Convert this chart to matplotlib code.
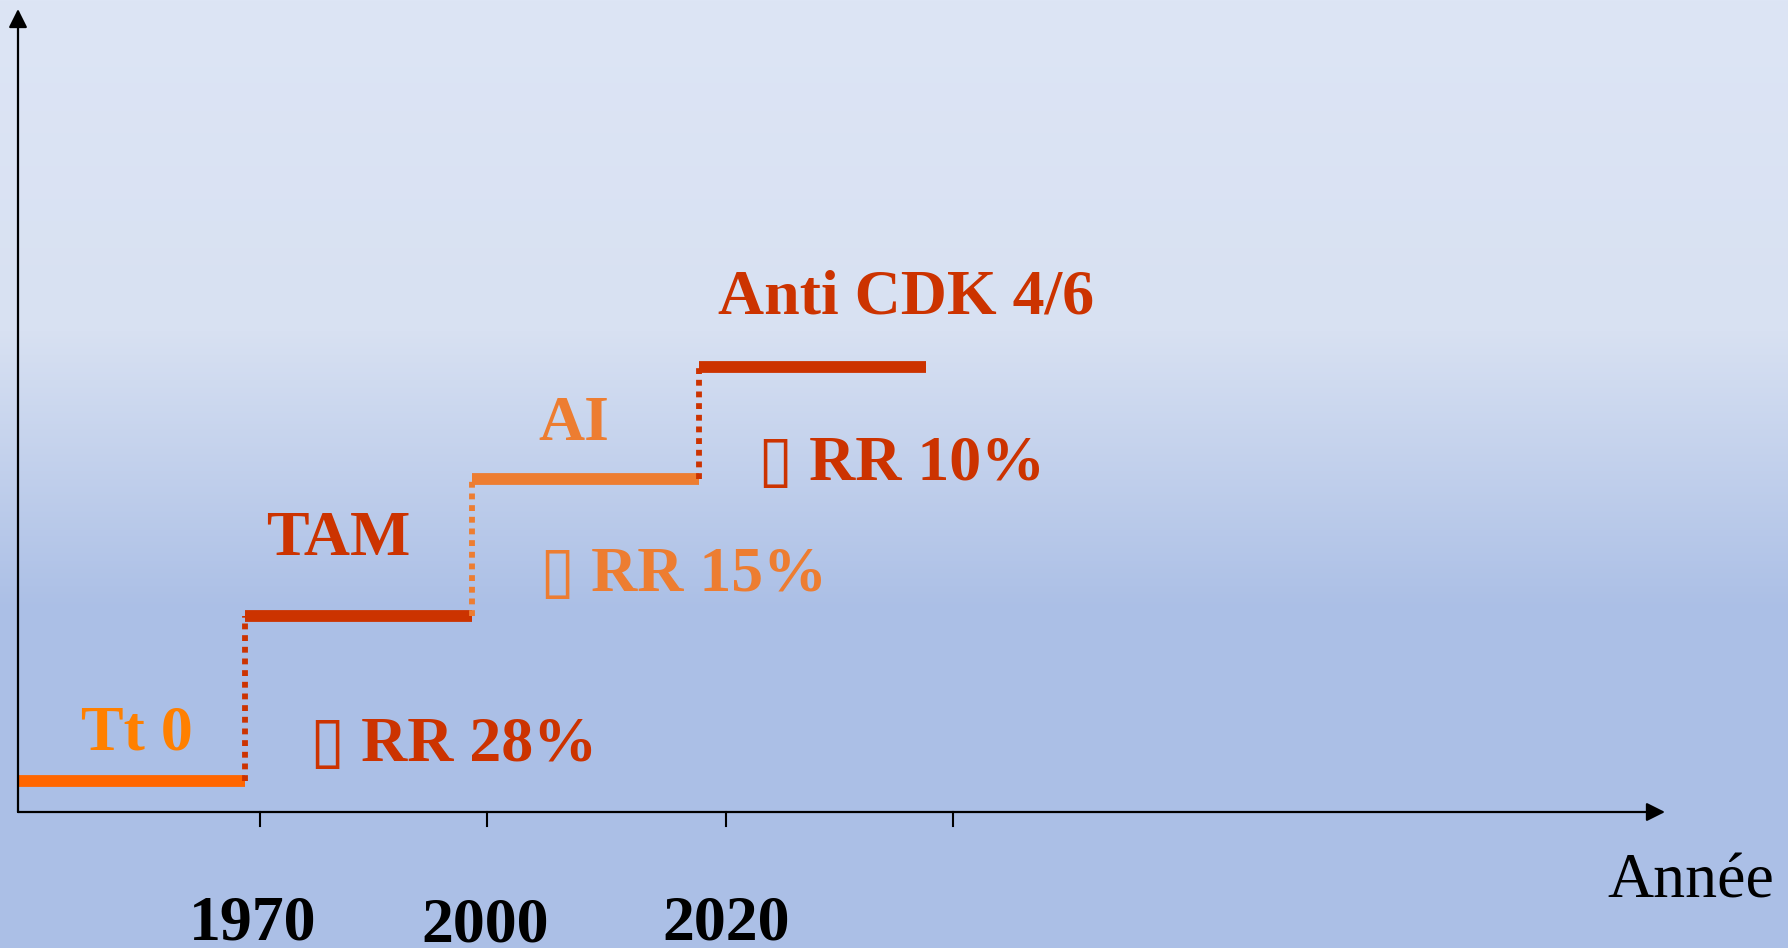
import numpy as np
import matplotlib.pyplot as plt

# periods (step index on the x axis) and their level
treatments = ['Tt 0', 'TAM', 'AI', 'Anti CDK 4/6']
levels = [0.31, 1.96, 3.33, 4.45]
step_starts = [0, 1, 2, 3]
line_colors = ['#FF6600', '#CC3300', '#ED7D31', '#CC3300']
label_colors = ['#FF8000', '#CC3300', '#ED7D31', '#CC3300']

# relative risk reduction written under each new step
rr_labels = ['\u25AF RR 28%', '\u25AF RR 15%', '\u25AF RR 10%']
rr_colors = ['#CC3300', '#ED7D31', '#CC3300']

tick_pos = [1.066, 2.066, 3.12, 4.12]
year_labels = ['1970', '2000', '2020']
year_pos = [1.035, 2.06, 3.12]

W, H = 1788, 948
fig = plt.figure(figsize=(W / 100, H / 100), dpi=100)
ax = fig.add_axes([0, 0, 1, 1])
# 1 x unit = 227 px starting at px 18, 1 y unit = 100 px, axis at px 812 from top
x0, y0 = -18 / 227, -(H - 812) / 100
x1, y1 = (W - 18) / 227, 812 / 100
ax.set_xlim(x0, x1)
ax.set_ylim(y0, y1)
ax.axis('off')

# background gradient (light at top, flat blue at bottom)
top = np.array([221, 229, 245])
mid = np.array([216, 225, 242])
bot = np.array([171, 191, 230])
col = np.zeros((H, 3))
for i in range(H):
    if i < 330:
        col[i] = top + (mid - top) * i / 330
    elif i < 610:
        col[i] = mid + (bot - mid) * (i - 330) / 280
    else:
        col[i] = bot
grad = np.repeat(col[:, None, :], 4, axis=1) / 255
ax.imshow(grad, extent=[x0, x1, y0, y1], aspect='auto', zorder=0)

# axes with arrows
arrow = dict(arrowstyle='-|>', color='black', lw=1.6, mutation_scale=28, shrinkA=0, shrinkB=0)
ax.annotate('', xy=(0, (812 - 9) / 100), xytext=(0, 0), arrowprops=arrow, zorder=3)
ax.annotate('', xy=((1665 - 18) / 227, 0), xytext=(0, 0), arrowprops=arrow, zorder=3)
for t in tick_pos:
    ax.plot([t, t], [0, -0.14], color='black', lw=1.5, zorder=3)

font = ['Liberation Serif', 'DejaVu Sans']

# steps
for i, (s, lv) in enumerate(zip(step_starts, levels)):
    ax.plot([s, s + 1], [lv, lv], color=line_colors[i], lw=8.5,
            solid_capstyle='butt', zorder=2)
    if i > 0:
        ax.plot([s, s], [levels[i - 1], lv], color=line_colors[i], lw=4.2,
                linestyle=(0, (1, 1)), dash_capstyle='butt', zorder=2)

# treatment names
name_pos = [(0.524, 0.62), (1.41, 2.57), (2.45, 3.72), (3.91, 4.98)]
for name, (x, y), c in zip(treatments, name_pos, label_colors):
    ax.text(x, y, name, color=c, fontsize=46, fontweight='bold', family=font,
            ha='center', va='baseline', zorder=4)

rr_pos = [(1.286, 0.51), (2.30, 2.21), (3.26, 3.32)]
for lab, (x, y), c in zip(rr_labels, rr_pos, rr_colors):
    ax.text(x, y, lab, color=c, fontsize=46, fontweight='bold', family=font,
            ha='left', va='baseline', zorder=4)

year_base = [-1.27, -1.30, -1.27]
for lab, x, y in zip(year_labels, year_pos, year_base):
    ax.text(x, y, lab, color='black', fontsize=46, fontweight='bold', family=font,
            ha='center', va='baseline', zorder=4)

ax.text(7.0, -0.85, 'Année', color='black', fontsize=46, family=font,
        ha='left', va='baseline', zorder=4)

fig.savefig('out.png', dpi=100)
